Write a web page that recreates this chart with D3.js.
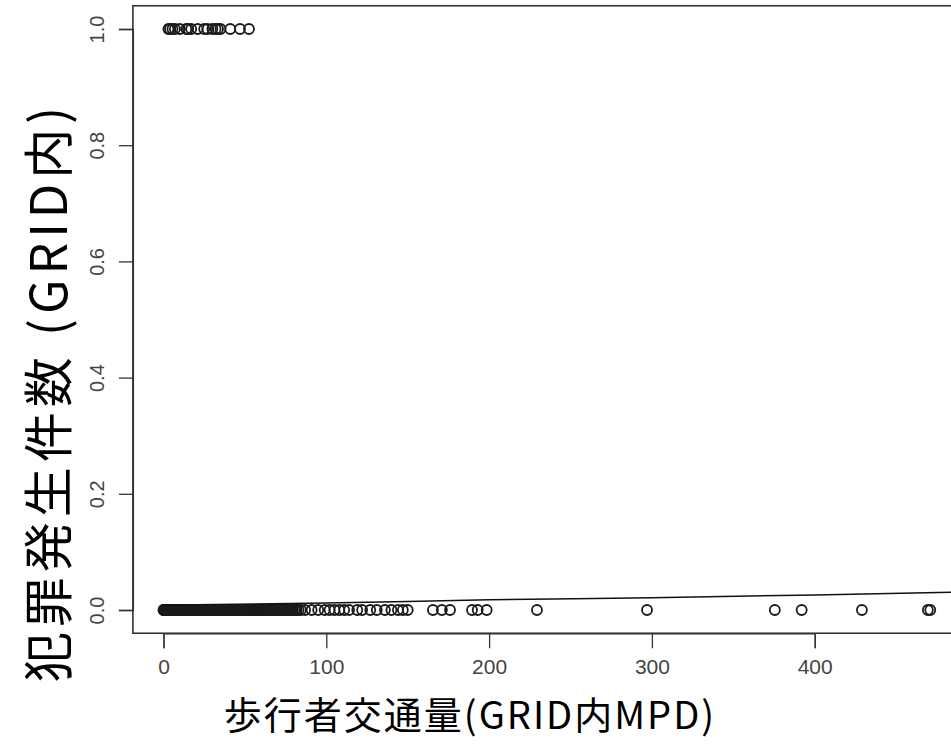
<!DOCTYPE html>
<html>
<head>
<meta charset="utf-8">
<script src="https://cdn.jsdelivr.net/npm/d3@7"></script>
<style>
  body { margin: 0; background: #fff; }
  svg { display: block; }
</style>
</head>
<body>
<svg id="chart" width="951" height="751"></svg>
<script>
// 歩行者交通量 (MPD) of grids with crime = 1
const crimeOne = [3, 4, 5.5, 7, 10, 14, 15, 17, 21, 25, 27, 30, 32, 33.5, 35, 41, 47, 52.5]

// grids with crime = 0 : dense part near zero
const crimeZeroDense = [
  0, 0.1, 0.3, 0.4, 0.6, 0.8, 1, 1.2, 1.4, 1.6, 1.9, 2.1, 2.4, 2.6, 2.9, 3.1, 3.4, 3.7,
  4, 4.3, 4.6, 4.9, 5.3, 5.6, 5.9, 6.3, 6.6, 7, 7.3, 7.7, 8.1, 8.4, 8.8, 9.2, 9.6, 10,
  10.4, 10.8, 11.2, 11.6, 12, 12.5, 12.9, 13.3, 13.8, 14.2, 14.6, 15.1, 15.5, 16, 16.4,
  16.9, 17.3, 17.8, 18.2, 18.7, 19.2, 19.6, 20.1, 20.6, 21, 21.5, 22, 22.5, 22.9, 23.4,
  23.9, 24.4, 24.9, 25.4, 25.9, 26.4, 26.9, 27.4, 27.9, 28.4, 28.9, 29.4, 29.9, 30.4,
  30.9, 31.5, 32, 32.5, 33, 33.5, 34.1, 34.6, 35.1, 35.6, 36.2, 36.7, 37.2, 37.8, 38.3,
  38.8, 39.4, 39.9, 40.5, 41, 41.6, 42.1, 42.7, 43.2, 43.8, 44.3, 44.9, 45.5, 46, 46.6,
  47.2, 47.7, 48.3, 48.9, 49.5, 50, 50.6, 51.2, 51.8, 52.4, 53, 53.6, 54.2, 54.8, 55.4,
  56, 56.6, 57.2, 57.8, 58.4, 59, 59.7, 60.3, 60.9, 61.5, 62.2, 62.8, 63.4, 64.1, 64.7,
  65.4, 66, 66.7, 67.3, 68, 68.7, 69.3, 70, 70.7, 71.4, 72.1, 72.8, 73.6, 74.3, 75.1,
  75.9, 76.8, 77.6, 78.5, 79.5, 80.6, 81.8, 83, 84.4
]
// grids with crime = 0 : sparse tail
const crimeZeroTail = [
  87, 91, 95, 99, 102, 105, 108, 111, 114, 119, 122, 127, 131, 136, 140, 144, 147, 150,
  165.5, 171, 176, 189.5, 193, 198.5, 229.4, 297, 375.5, 392, 429, 469.5, 471
]

// fitted curve
const fitMpd = [0, 100, 200, 300, 400, 490]
const fitProb = [0.0085, 0.012, 0.0175, 0.021, 0.026, 0.031]

const xTicks = [0, 100, 200, 300, 400]
const yTicks = [0, 0.2, 0.4, 0.6, 0.8, 1.0]

const svg = d3.select('#chart')

const x = d3.scaleLinear().domain([0, 400]).range([163.5, 814.7])
const y = d3.scaleLinear().domain([0, 1]).range([610, 29])

const box = {
  left: x(-18.8),
  right: x(489.8),
  top: y(1.04),
  bottom: y(-0.04),
}

svg.append('clipPath')
  .attr('id', 'plotClip')
  .append('rect')
  .attr('x', box.left)
  .attr('y', box.top)
  .attr('width', box.right - box.left)
  .attr('height', box.bottom - box.top)

const plot = svg.append('g').attr('clip-path', 'url(#plotClip)')

const allZero = crimeZeroDense.concat(crimeZeroTail)
const points = allZero.map((d) => ({ mpd: d, crime: 0 }))
  .concat(crimeOne.map((d) => ({ mpd: d, crime: 1 })))

plot.selectAll('circle')
  .data(points)
  .enter()
  .append('circle')
  .attr('cx', (d) => x(d.mpd))
  .attr('cy', (d) => y(d.crime))
  .attr('r', 5)
  .attr('fill', 'none')
  .attr('stroke', '#1a1a1a')
  .attr('stroke-width', 1.8)

const line = d3.line()
  .x((d, i) => x(fitMpd[i]))
  .y((d) => y(d))
  .curve(d3.curveMonotoneX)

plot.append('path')
  .attr('d', line(fitProb))
  .attr('fill', 'none')
  .attr('stroke', '#111')
  .attr('stroke-width', 1.5)

// box
svg.append('rect')
  .attr('x', box.left)
  .attr('y', box.top)
  .attr('width', box.right - box.left)
  .attr('height', box.bottom - box.top)
  .attr('fill', 'none')
  .attr('stroke', '#333')
  .attr('stroke-width', 1.6)

// x axis
const xAxis = svg.append('g')
  .attr('transform', `translate(0,${box.bottom})`)
  .call(d3.axisBottom(x).tickValues(xTicks).tickSize(15).tickPadding(11))
xAxis.select('.domain').attr('stroke', '#333').attr('stroke-width', 1.3)
xAxis.selectAll('.tick line').attr('stroke', '#333').attr('stroke-width', 1.3)
xAxis.selectAll('.tick text')
  .attr('font-family', 'Liberation Sans, Arial, sans-serif')
  .attr('font-size', 21)
  .attr('fill', '#444')

// y axis
const yAxis = svg.append('g')
  .attr('transform', `translate(${box.left},0)`)
  .call(d3.axisLeft(y).tickValues(yTicks).tickSize(14).tickFormat(d3.format('.1f')))
yAxis.select('.domain').attr('stroke', '#333').attr('stroke-width', 1.3)
yAxis.selectAll('.tick line').attr('stroke', '#333').attr('stroke-width', 1.3)
yAxis.selectAll('.tick text')
  .attr('font-family', 'Liberation Sans, Arial, sans-serif')
  .attr('font-size', 20)
  .attr('fill', '#444')
  .attr('x', null)
  .attr('dy', null)
  .attr('text-anchor', 'middle')
  .attr('transform', 'translate(-36,0) rotate(-90)')
  .attr('dominant-baseline', 'central')

// axis titles
svg.append('text')
  .attr('x', 470)
  .attr('y', 712)
  .attr('text-anchor', 'middle')
  .attr('dominant-baseline', 'central')
  .attr('font-family', 'Noto Sans CJK JP, sans-serif')
  .attr('font-size', 38)
  .attr('letter-spacing', 2)
  .attr('fill', '#000')
  .text('歩行者交通量(GRID内MPD)')

svg.append('text')
  .attr('transform', 'translate(45,392) rotate(-90)')
  .attr('text-anchor', 'middle')
  .attr('dominant-baseline', 'central')
  .attr('font-family', 'Noto Sans CJK JP, sans-serif')
  .attr('font-size', 50)
  .attr('letter-spacing', 5)
  .attr('fill', '#000')
  .text('犯罪発生件数 (GRID内)')
</script>
</body>
</html>
